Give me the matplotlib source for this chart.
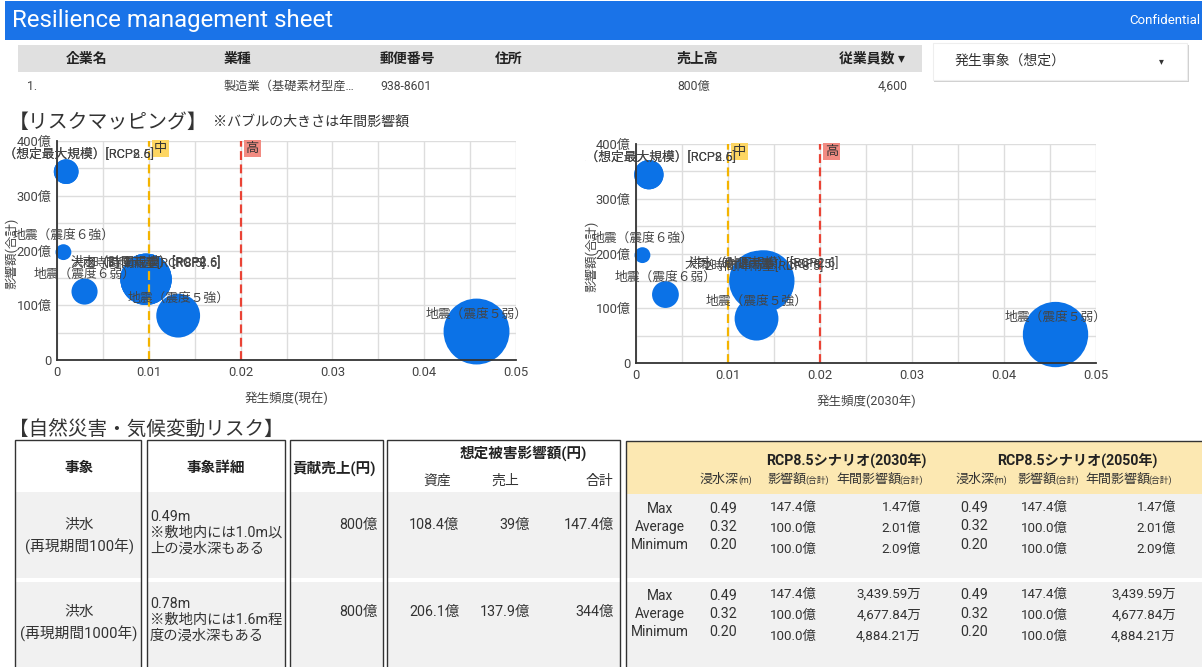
import matplotlib
matplotlib.use("Agg")
import matplotlib.pyplot as plt
from matplotlib.patches import Rectangle
from matplotlib.transforms import Bbox, TransformedBbox
from matplotlib.ticker import FuncFormatter, MultipleLocator

plt.rcParams['font.family'] = ['Roboto', 'Noto Sans CJK JP', 'DejaVu Sans']

W, H = 1202, 667

# --- company summary ---
company_cols = ["企業名", "業種", "郵便番号", "住所", "売上高", "従業員数 ▾"]
company_row = ["1.", "製造業（基礎素材型産…", "938-8601", "", "800億", "4,600"]

# --- risk mapping (bubble size = annual impact) ---
events = ["洪水（想定最大規模）[RCP2.6]", "洪水（想定最大規模）[RCP8.5]",
          "地震（震度６強）", "地震（震度６弱）",
          "洪水（計画規模）[RCP2.6]", "2時間降雨量[RCP8.5]",
          "大雨（時間雨量）[RCP8.5]", "地震（震度５強）", "地震（震度５弱）"]
freq_now = [0.001, 0.001, 0.0007, 0.003, 0.0097, 0.0097, 0.0097, 0.0132, 0.0457]
impact_now = [344, 344, 197, 125, 147.4, 147.4, 147.4, 81, 52]
annual_now = [0.34, 0.34, 0.14, 0.38, 1.47, 1.47, 1.47, 1.07, 2.42]
freq_2030 = [0.0014, 0.0014, 0.0007, 0.0032, 0.0139, 0.0139, 0.0134, 0.0131, 0.0456]
impact_2030 = [344, 344, 197, 125, 150, 147.4, 150, 81, 52]
annual_2030 = [0.48, 0.48, 0.14, 0.40, 2.09, 2.01, 2.03, 1.07, 2.38]
thresholds = [0.01, 0.02]
threshold_labels = ["中", "高"]

# --- natural disaster / climate table ---
hazard = ["洪水", "洪水"]
hazard_period = ["(再現期間100年)", "(再現期間1000年)"]
hazard_detail = [["0.49m", "※敷地内には1.0m以", "上の浸水深もある"],
                 ["0.78m", "※敷地内には1.6m程", "度の浸水深もある"]]
contrib_sales = ["800億", "800億"]
damage_asset = ["108.4億", "206.1億"]
damage_sales = ["39億", "137.9億"]
damage_total = ["147.4億", "344億"]
stat_names = ["Max", "Average", "Minimum"]
depth_2030 = [["0.49", "0.32", "0.20"], ["0.49", "0.32", "0.20"]]
impact_tbl_2030 = [["147.4億", "100.0億", "100.0億"], ["147.4億", "100.0億", "100.0億"]]
annual_tbl_2030 = [["1.47億", "2.01億", "2.09億"], ["3,439.59万", "4,677.84万", "4,884.21万"]]
depth_2050 = [["0.49", "0.32", "0.20"], ["0.49", "0.32", "0.20"]]
impact_tbl_2050 = [["147.4億", "100.0億", "100.0億"], ["147.4億", "100.0億", "100.0億"]]
annual_tbl_2050 = [["1.47億", "2.01億", "2.09億"], ["3,439.59万", "4,677.84万", "4,884.21万"]]

BLUE = '#1a73e8'
BUBBLE = '#0b72e7'

fig = plt.figure(figsize=(W / 100, H / 100), dpi=100)


def fx(x):
    return x / W


def fy(y):
    return 1 - y / H


def rect(x0, y0, x1, y1, **kw):
    fig.patches.append(Rectangle((fx(x0), fy(y1)), fx(x1) - fx(x0), fy(y0) - fy(y1),
                                 transform=fig.transFigure, **kw))


def txt(x, y, s, size=9, **kw):
    kw.setdefault('va', 'center')
    kw.setdefault('color', '#333333')
    return fig.text(fx(x), fy(y), s, fontsize=size, **kw)


# header bar
rect(5, 1, W, 40, color=BLUE, lw=0)
txt(12, 21, "Resilience management sheet", size=17.3, color='white')
txt(1200, 21, "Confidential", size=9.5, color='white', ha='right')

# company table
rect(18, 45, 922, 72, color='#e0e0e0', lw=0)
col_x = [66, 224, 380, 495, 677, 905]
for i, (c, v) in enumerate(zip(company_cols, company_row)):
    ha = 'right' if i == 5 else 'left'
    txt(col_x[i], 59, c, size=10, weight='bold', color='#222222', ha=ha)
    vx = 27 if i == 0 else (col_x[i] + 3 if i == 5 else col_x[i])
    txt(vx, 86, v, size=8.8, color='#444444', ha=ha)

# event selector
rect(934, 45, 1189, 82, color='#d0d0d0', lw=0)
rect(933, 43, 1187, 80, facecolor='white', edgecolor='#eeeeee', lw=0.8)
txt(955, 61, "発生事象（想定）", size=10, color='#333333')
txt(1161, 61, "▾", size=7, color='#333333', ha='center')

# section titles
txt(9, 122, "【リスクマッピング】", size=14.3)
txt(213, 122, "※バブルの大きさは年間影響額", size=10.1)
txt(9, 430, "【自然災害・気候変動リスク】", size=14.1)


def bubble_chart(left, right, top, bottom, freq, impact, annual, xlabel, ylab_x, clip):
    ax = fig.add_axes([fx(left), fy(bottom), fx(right) - fx(left), fy(top) - fy(bottom)])
    ax.set_xlim(0, 0.05)
    ax.set_ylim(0, 400)
    ax.xaxis.set_major_locator(MultipleLocator(0.01))
    ax.xaxis.set_minor_locator(MultipleLocator(0.005))
    ax.yaxis.set_major_locator(MultipleLocator(100))
    ax.yaxis.set_minor_locator(MultipleLocator(50))
    ax.grid(True, which='both', color='#dddddd', lw=1)
    ax.set_axisbelow(True)
    ax.xaxis.set_major_formatter(FuncFormatter(lambda v, p: "0" if v == 0 else f"{v:g}"))
    ax.yaxis.set_major_formatter(FuncFormatter(lambda v, p: "0" if v == 0 else f"{v:.0f}億"))
    ax.tick_params(which='both', length=0, labelsize=9.4, colors='#444444', pad=4)
    for s in ['top', 'right']:
        ax.spines[s].set_visible(False)
    for s in ['left', 'bottom']:
        ax.spines[s].set_color('#333333')
        ax.spines[s].set_linewidth(1.3)
        ax.spines[s].set_zorder(5)
    ax.scatter(freq, impact, s=[a * 930 for a in annual], color=BUBBLE,
               linewidths=0, zorder=3, clip_on=False)
    colors = ['#f4b400', '#ea4335']
    boxes = ['#fdd663', '#f28b82']
    for t, lab, c, b in zip(thresholds, threshold_labels, colors, boxes):
        ax.axvline(t, color=c, ls=(0, (4, 2)), lw=1.6, zorder=4)
        ax.annotate(lab, (t, 400), xytext=(5, -1), textcoords='offset pixels',
                    ha='left', va='top', fontsize=9.5, color='#333333', zorder=6,
                    bbox=dict(boxstyle='square,pad=0.15', fc=b, ec='none'))
    clip_box = TransformedBbox(Bbox.from_extents(fx(clip[0]), 0, fx(clip[1]), 1), fig.transFigure)
    for name, x, y in zip(events, freq, impact):
        t = ax.annotate(name, (x, y), xytext=(0, 17), textcoords='offset pixels',
                        ha='center', va='center', fontsize=9.2, color='#444444',
                        zorder=7, annotation_clip=False)
        t.set_clip_box(clip_box)
        t.set_clip_on(True)
    ax.set_xlabel(xlabel, fontsize=9, color='#444444', labelpad=9)
    fig.text(fx(ylab_x), fy((top + bottom) / 2 + 3), "影響額(合計)", rotation=90,
             fontsize=9, color='#444444', ha='center', va='center')
    return ax


bubble_chart(57, 516, 141, 360, freq_now, impact_now, annual_now, "発生頻度(現在)", 12, (8, 570))
bubble_chart(636, 1096, 144, 363, freq_2030, impact_2030, annual_2030, "発生頻度(2030年)", 592, (585, 1200))

# --- table boxes ---
box_top = 440
row1 = (492, 578)
row2 = (582, H + 5)
for x0, x1 in [(15, 141), (147, 285), (290, 383), (387, 620)]:
    rect(x0, row1[0], x1, row1[1], color='#f1f1f1', lw=0)
    rect(x0, row2[0], x1, row2[1], color='#f1f1f1', lw=0)
    rect(x0, box_top, x1, H + 5, facecolor='none', edgecolor='#333333', lw=1)

# scenario box
rect(626, 441, W + 5, 494, color='#fce8b2', lw=0)
rect(626, 494, W + 5, row1[1], color='#f1f1f1', lw=0)
rect(626, row2[0], W + 5, row2[1], color='#f1f1f1', lw=0)
rect(626, 441, W + 5, H + 5, facecolor='none', edgecolor='#333333', lw=1)

# header labels
hb = dict(size=10.5, weight='bold', color='#222222')
txt(79, 468, "事象", ha='center', **hb)
txt(216, 468, "事象詳細", ha='center', **hb)
txt(334, 468, "貢献売上(円)", ha='center', **hb)
txt(523, 453, "想定被害影響額(円)", ha='center', **hb)
txt(437, 481, "資産", size=10, ha='center')
txt(505, 481, "売上", size=10, ha='center')
txt(613, 481, "合計", size=10, ha='right')

hb2 = dict(size=10.2, weight='bold', color='#222222')
txt(846, 460, "RCP8.5シナリオ(2030年)", ha='center', **hb2)
txt(1077, 460, "RCP8.5シナリオ(2050年)", ha='center', **hb2)
for x0, x1, x2 in [(700, 767, 836), (955, 1017, 1085)]:
    txt(x0, 479, "浸水深", size=9.4)
    txt(x0 + 38, 480, "(m)", size=6.3)
    txt(x1, 479, "影響額", size=9.4)
    txt(x1 + 38, 480, "(合計)", size=6.3)
    txt(x2, 479, "年間影響額", size=9.4)
    txt(x2 + 63, 480, "(合計)", size=6.3)

# table body
for r, base in enumerate([0, 87]):
    txt(79, 525 + base, hazard[r], size=10.6, ha='center')
    txt(79, 547 + base, hazard_period[r], size=10.6, ha='center')
    for k, line in enumerate(hazard_detail[r]):
        txt(150, 517 + base + k * 16, line, size=10.3)
    txt(378, 525 + base, contrib_sales[r], size=10.3, ha='right')
    txt(459, 525 + base, damage_asset[r], size=10.3, ha='right')
    txt(530, 525 + base, damage_sales[r], size=10.3, ha='right')
    txt(614, 525 + base, damage_total[r], size=10.3, ha='right')
    for k in range(3):
        txt(660, 509 + base + k * 18, stat_names[k], size=9.9, ha='center')
        txt(709, 509 + base + k * 18, depth_2030[r][k], size=10.3)
        txt(770, 507 + base + k * 21, impact_tbl_2030[r][k], size=9.6)
        txt(921, 507 + base + k * 21, annual_tbl_2030[r][k], size=9.6, ha='right')
        txt(960, 508 + base + k * 18.5, depth_2050[r][k], size=10.3)
        txt(1021, 507 + base + k * 21, impact_tbl_2050[r][k], size=9.6)
        txt(1176, 507 + base + k * 21, annual_tbl_2050[r][k], size=9.6, ha='right')

fig.savefig("out.png", dpi=100)
